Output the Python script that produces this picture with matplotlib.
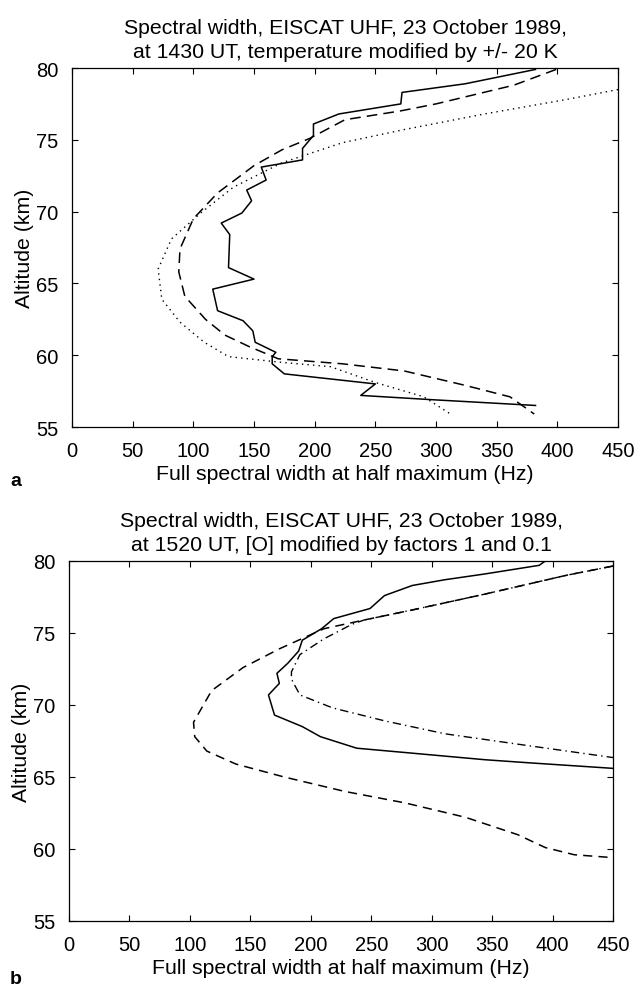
import matplotlib.pyplot as plt

plt.rcParams['font.family'] = ['Liberation Sans', 'DejaVu Sans']

# Panel a: 1430 UT, temperature modified by +/- 20 K
a_solid_w = [382, 324, 272, 271, 220, 199, 199, 190, 190, 156, 160, 144, 148, 140, 123, 130,
             129, 150, 116, 120, 141, 149, 151, 168, 165, 165, 175, 250, 238, 297, 382]
a_solid_h = [79.9, 78.9, 78.3, 77.5, 76.8, 76.1, 75.3, 74.4, 73.6, 73.1, 72.2, 71.5, 70.75, 69.9, 69.2, 68.4,
             66.1, 65.3, 64.6, 63.1, 62.4, 61.7, 60.9, 60.2, 59.9, 59.4, 58.7, 58.0, 57.2, 56.9, 56.5]

a_dash_w = [399, 364, 300, 270, 225, 196, 173, 150, 120, 100, 89, 88, 93, 110, 126, 146,
            170, 223, 274, 324, 361, 381]
a_dash_h = [79.9, 78.8, 77.5, 77.0, 76.4, 75.1, 74.3, 73.2, 71.3, 69.5, 67.4, 65.8, 64.1, 62.5, 61.4, 60.6,
            59.75, 59.4, 58.9, 57.9, 57.1, 55.9]

a_dot_w = [450, 407, 340, 273, 223, 173, 133, 106, 82, 71, 74, 89, 109, 129, 173, 213, 250, 290, 312]
a_dot_h = [78.5, 77.8, 76.8, 75.7, 74.8, 73.4, 71.7, 69.9, 68.1, 66.0, 63.9, 62.3, 60.9, 59.9, 59.5,
           59.2, 58.1, 57.1, 55.9]

# Panel b: 1520 UT, [O] modified by factors 1 and 0.1
b_solid_w = [394, 389, 344, 311, 284, 261, 249, 219, 209, 193, 190, 181, 172, 174, 165, 170,
             193, 208, 238, 278, 344, 378, 450]
b_solid_h = [80.0, 79.7, 79.1, 78.7, 78.3, 77.6, 76.7, 76.0, 75.3, 74.5, 73.75, 72.9, 72.2, 71.5, 70.7, 69.3,
             68.5, 67.8, 67.0, 66.7, 66.2, 66.0, 65.6]

b_dash_w = [450, 411, 344, 284, 244, 211, 174, 144, 118, 103, 104, 114, 138, 178, 228, 278,
            328, 371, 394, 418, 450]
b_dash_h = [79.65, 79.0, 77.7, 76.6, 75.9, 75.3, 73.9, 72.6, 71.0, 68.8, 67.8, 66.8, 65.9, 65.0, 64.0, 63.2,
            62.2, 61.0, 60.1, 59.6, 59.4]

b_dashdot_w = [450, 411, 344, 284, 244, 234, 211, 191, 184, 184, 191, 218, 261, 311, 378, 450]
b_dashdot_h = [79.65, 79.0, 77.7, 76.6, 75.9, 75.6, 74.6, 73.5, 72.3, 71.8, 70.7, 69.8, 68.9, 68.0, 67.2, 66.35]

x_ticks = [0, 50, 100, 150, 200, 250, 300, 350, 400, 450]
y_ticks = [55, 60, 65, 70, 75, 80]

title_a = "Spectral width, EISCAT UHF, 23 October 1989,\nat 1430 UT, temperature modified by +/- 20 K"
title_b = "Spectral width, EISCAT UHF, 23 October 1989,\nat 1520 UT, [O] modified by factors 1 and 0.1"
xlabel = "Full spectral width at half maximum (Hz)"
ylabel = "Altitude (km)"

fig = plt.figure(figsize=(6.34, 9.87), dpi=100)
ax_a = fig.add_axes([72 / 634, 1 - 428 / 987, 546 / 634, 359 / 987])
ax_b = fig.add_axes([69 / 634, 1 - 922 / 987, 544 / 634, 360 / 987])

ax_a.plot(a_solid_w, a_solid_h, color='black', linewidth=1.1, linestyle='-')
ax_a.plot(a_dash_w, a_dash_h, color='black', linewidth=1.1, linestyle=(0, (7, 4)))
ax_a.plot(a_dot_w, a_dot_h, color='black', linewidth=1.0, linestyle=(0, (1, 3)))

ax_b.plot(b_solid_w, b_solid_h, color='black', linewidth=1.1, linestyle='-')
ax_b.plot(b_dash_w, b_dash_h, color='black', linewidth=1.1, linestyle=(0, (6, 4)))
ax_b.plot(b_dashdot_w, b_dashdot_h, color='black', linewidth=1.0, linestyle=(0, (6, 3, 1, 3)))

for ax, title, tag, tag_y in [(ax_a, title_a, 'a', 482), (ax_b, title_b, 'b', 980)]:
    ax.set_xlim(0, 450)
    ax.set_ylim(55, 80)
    ax.set_xticks(x_ticks)
    ax.set_yticks(y_ticks)
    ax.tick_params(direction='in', top=True, right=True, length=4, width=0.8,
                   labelsize=14.5, pad=10)
    for s in ax.spines.values():
        s.set_linewidth(0.9)
    ax.set_title(title, fontsize=15.3, linespacing=1.3, pad=8)
    ax.set_xlabel(xlabel, fontsize=15.3, labelpad=3)
    ax.set_ylabel(ylabel, fontsize=15.3, labelpad=1)
    fig.text(10 / 634, 1 - tag_y / 987, tag, fontsize=14, fontweight='bold', va='center')

plt.savefig('out.png', dpi=100)
